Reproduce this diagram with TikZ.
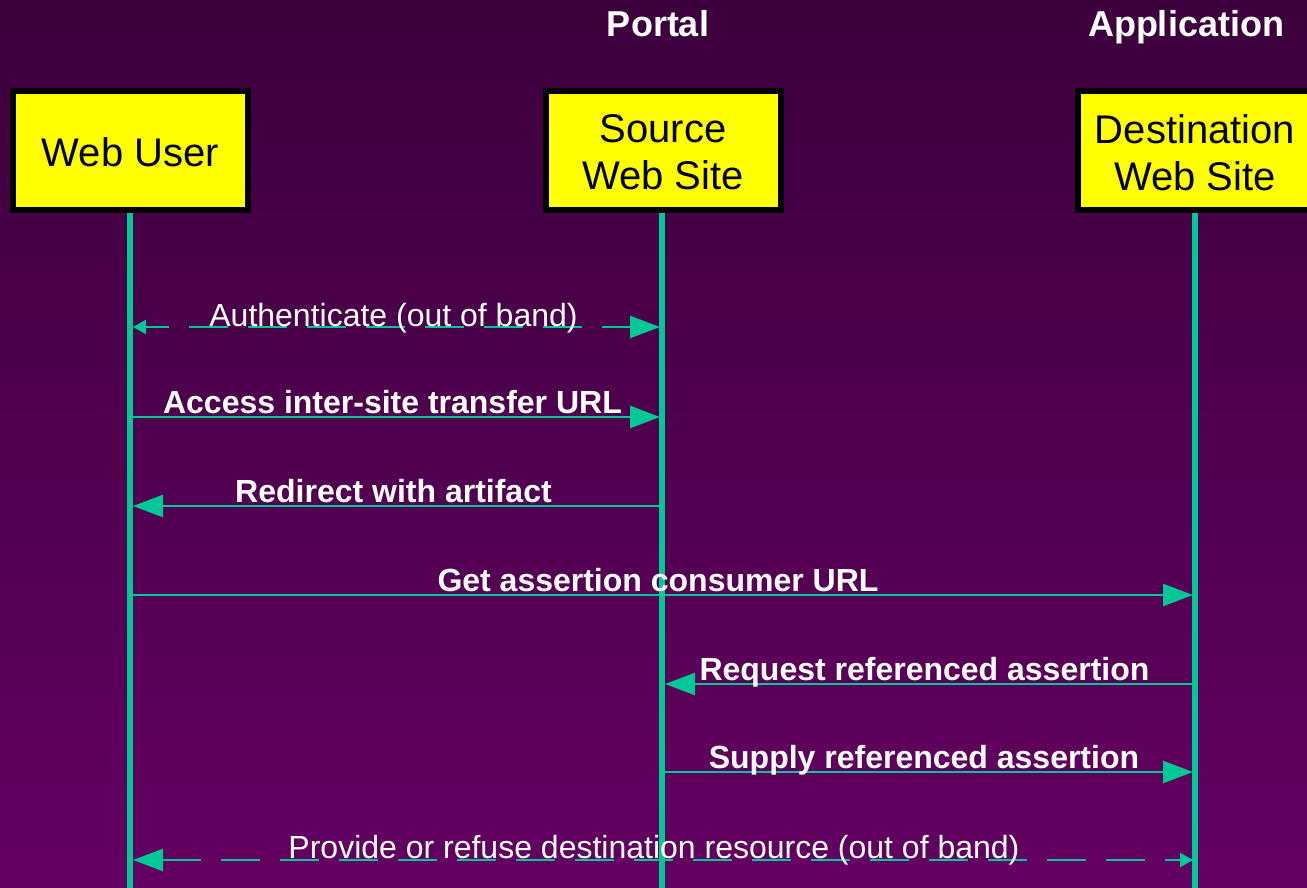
\documentclass[tikz,border=0pt]{standalone}
\usepackage{fontspec}
\setmainfont{Liberation Sans}
\usetikzlibrary{arrows.meta}
\definecolor{ln}{RGB}{0,200,150}
\definecolor{bgtop}{RGB}{60,0,60}
\definecolor{bgbot}{RGB}{100,0,98}
\definecolor{boxyel}{RGB}{255,255,0}
\definecolor{txtw}{RGB}{255,255,255}
\definecolor{edge}{RGB}{0,0,0}
\begin{document}
\begin{tikzpicture}[x=1pt,y=-1pt,
  actor/.style={draw=edge,line width=6pt,fill=boxyel,minimum width=235pt,minimum height=119pt,
    inner sep=0pt},
  boxtxt/.style={inner sep=0pt,align=center,font=\fontsize{40}{47}\selectfont,text=edge},
  life/.style={draw=ln,line width=6pt},
  msg/.style={draw=ln,line width=2.7pt},
  oob/.style={msg,dash pattern=on 39pt off 20pt},
  BigT/.tip={Triangle[length=30pt,width=22pt]},
  SmallT/.tip={Triangle[length=13pt,width=14pt]},
  blab/.style={text=txtw,font=\fontsize{32}{36}\selectfont\bfseries,anchor=base,inner sep=0pt},
  rlab/.style={text=txtw,font=\fontsize{32}{36}\selectfont,anchor=base,inner sep=0pt},
  ttl/.style={text=txtw,font=\fontsize{36}{40}\selectfont\bfseries,anchor=base,inner sep=0pt}]
\useasboundingbox (0,0) rectangle (1307,888);
\shade[top color=bgtop,bottom color=bgbot] (0,0) rectangle (1307,888);

% titles
\node[ttl] (tportal) at (658,37) {Portal};
\node[ttl] (tapp) at (1186,37) {Application};

% actors
\node[actor] (wu) at (130.5,150.5) {};
\node[actor] (src) at (663,150.5) {};
\node[actor] (dst) at (1195,150.5) {};
\node[boxtxt] (wuT) at ([yshift=-2pt]wu.center) {Web User};
\node[boxtxt] (srcT) at ([yshift=-2pt]src.center) {Source\\Web Site};
\node[boxtxt] (dstT) at ([yshift=-2pt]dst.center) {Destination\\Web Site};

% lifeline ends
\coordinate (wuEnd) at (130,888);
\coordinate (srcEnd) at (662,888);
\coordinate (dstEnd) at (1195,888);
\draw[life] (wu.south -| wuEnd) -- (wuEnd);
\draw[life] (src.south -| srcEnd) -- (srcEnd);
\draw[life] (dst.south -| dstEnd) -- (dstEnd);

% message end points
\coordinate (m1a) at (133,327);  \coordinate (m1b) at (660,327);
\coordinate (m2a) at (130,417);  \coordinate (m2b) at (660,417);
\coordinate (m3a) at (662,506);  \coordinate (m3b) at (133,506);
\coordinate (m4a) at (130,595);  \coordinate (m4b) at (1193,595);
\coordinate (m5a) at (1195,684); \coordinate (m5b) at (665,684);
\coordinate (m6a) at (662,772);  \coordinate (m6b) at (1193,772);
\coordinate (m7a) at (133,860);  \coordinate (m7b) at (1193,860);

\draw[oob,dash phase=15pt,SmallT-BigT] (m1a) -- (m1b);
\draw[msg,-BigT] (m2a) -- (m2b);
\draw[msg,-BigT] (m3a) -- (m3b);
\draw[msg,-BigT] (m4a) -- (m4b);
\draw[msg,-BigT] (m5a) -- (m5b);
\draw[msg,-BigT] (m6a) -- (m6b);
\draw[oob,BigT-SmallT] (m7a) -- (m7b);

% labels
\node[rlab] (l1) at (393.5,326) {Authenticate (out of band)};
\node[blab] (l2) at (392.5,413) {Access inter-site transfer URL};
\node[blab] (l3) at (393.5,502) {Redirect with artifact};
\node[blab] (l4) at (658,591) {Get assertion consumer URL};
\node[blab] (l5) at (924.5,680) {Request referenced assertion};
\node[blab] (l6) at (924,768) {Supply referenced assertion};
\node[rlab] (l7) at (654,858) {Provide or refuse destination resource (out of band)};
\end{tikzpicture}
\end{document}
